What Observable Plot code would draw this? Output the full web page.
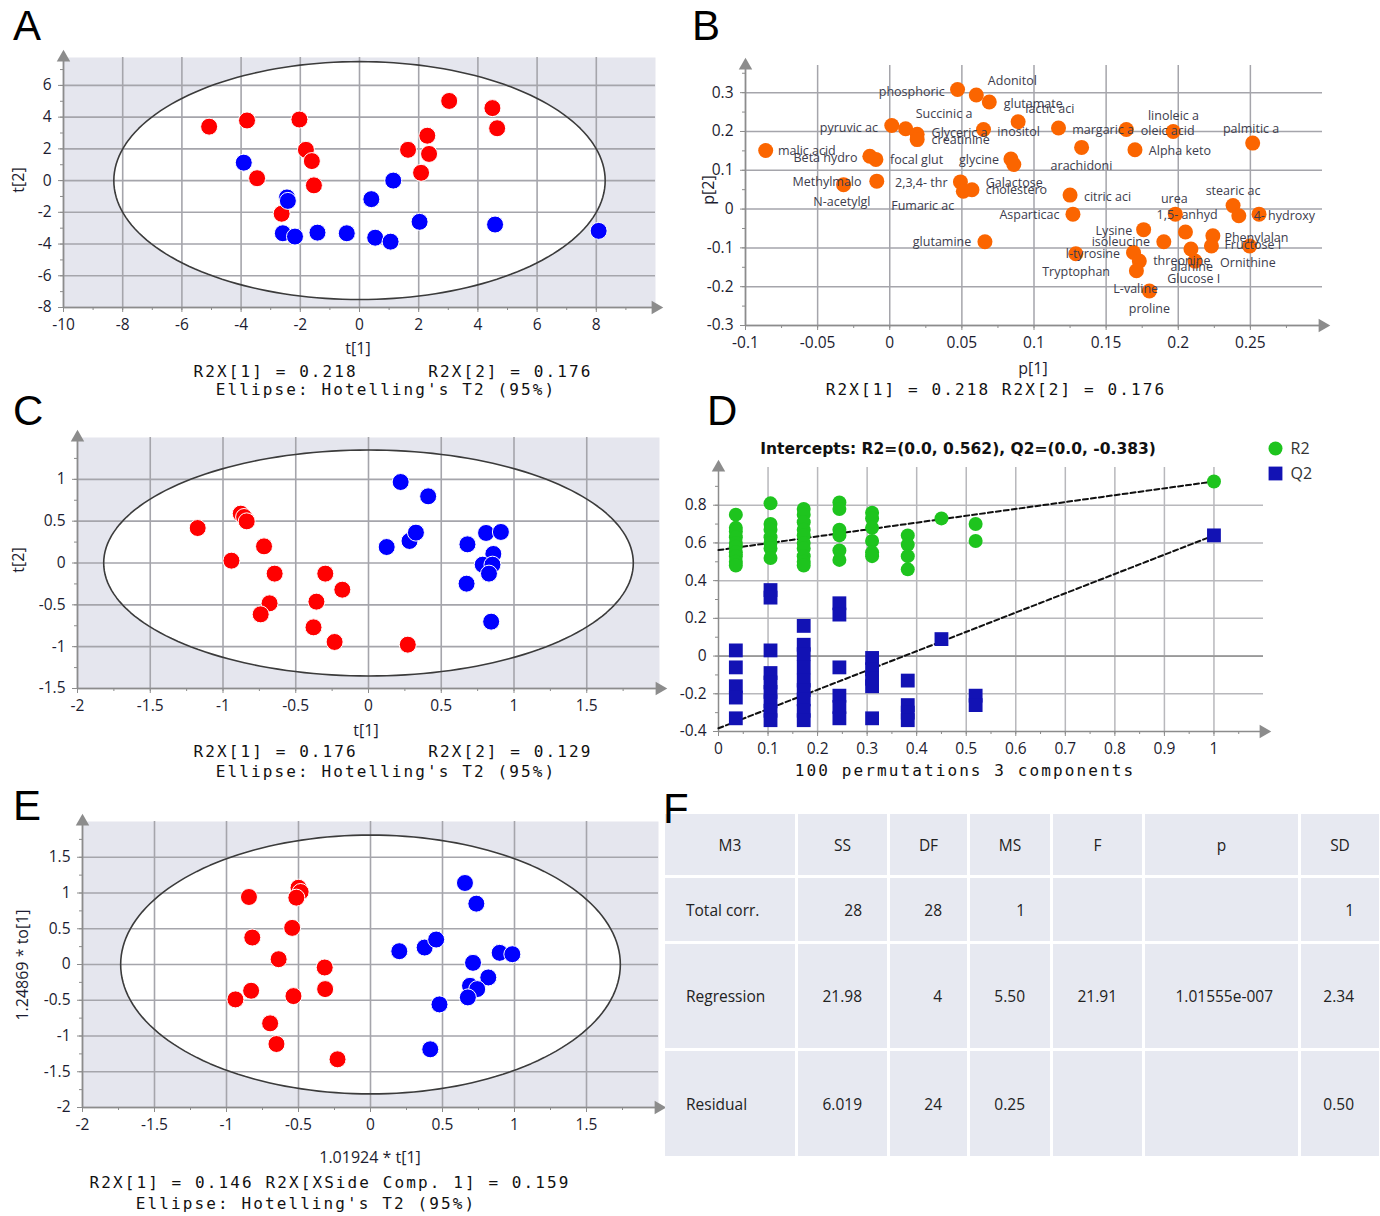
<!DOCTYPE html>
<html><head><meta charset="utf-8">
<script src="https://cdn.jsdelivr.net/npm/d3@7"></script>
<script src="https://cdn.jsdelivr.net/npm/@observablehq/plot@0.6"></script>
<style>
body{margin:0;background:#fff;width:1380px;height:1216px;position:relative;overflow:hidden;font-family:"Open Sans",sans-serif;color:#1c1c30}
.letter{position:absolute;font-family:"Liberation Sans",Arial,sans-serif;font-size:42px;line-height:1;color:#000;z-index:5}
.mono{position:absolute;font-family:"DejaVu Sans Mono",monospace;font-size:16px;letter-spacing:2.1px;white-space:pre;transform:translate(-50%,-50%);color:#111;line-height:1}
.lab{position:absolute;font-size:16px;transform:translate(-50%,-50%);white-space:pre;line-height:1;color:#1c1c30}
.rot{transform:translate(-50%,-50%) rotate(-90deg)}
.ttl{position:absolute;font-family:"DejaVu Sans",sans-serif;font-size:15.5px;font-weight:700;transform:translate(-50%,-50%);white-space:pre;line-height:1;color:#111}
.tbl{position:absolute;left:665px;top:814px;display:grid;grid-template-columns:130px 89px 77px 80px 89px 153px 78px;grid-template-rows:61px 63px 104px 105px;gap:3px}
.tbl div{background:#e7e9f1;display:flex;align-items:center;font-size:15.5px;color:#222;white-space:nowrap}
.tbl .h{justify-content:center}
.tbl .l{justify-content:flex-start;padding-left:21px}
.tbl .v{justify-content:flex-end;padding-right:25px}
</style></head><body>
<script>
// ---------------- DATA ----------------
// Panel A (PCA scores)
const aRedX  = [-5.08,-3.80,-2.03,3.03,4.49,4.65,2.29,1.64,2.35,2.08,-1.81,-1.61,-3.46,-1.54,-2.63];
const aRedY  = [3.40,3.79,3.85,5.02,4.57,3.30,2.83,1.94,1.68,0.49,1.94,1.23,0.15,-0.30,-2.09];
const aBlueX = [-3.91,1.14,0.40,-2.45,-2.42,2.03,4.58,8.08,-2.59,-2.18,-1.42,-0.43,0.53,1.05];
const aBlueY = [1.13,0.00,-1.17,-1.06,-1.28,-2.60,-2.77,-3.17,-3.32,-3.53,-3.28,-3.32,-3.60,-3.85];
const aEllipse = [8.3, 7.5];
const aXTicks = [-10,-8,-6,-4,-2,0,2,4,6,8];
const aYTicks = [-8,-6,-4,-2,0,2,4,6];

// Panel B (loadings)
const bX = [-0.086,0.047,0.060,0.069,0.0014,0.011,0.019,0.019,0.065,0.089,-0.0138,-0.0096,-0.032,-0.009,0.049,0.051,0.057,0.084,0.086,0.066,
            0.117,0.164,0.1965,0.2516,0.133,0.170,0.125,0.127,0.198,0.238,0.242,0.256,0.176,0.205,0.190,0.224,0.223,0.2495,0.129,0.169,0.173,0.171,0.2088,0.2116,0.180];
const bY = [0.151,0.308,0.294,0.276,0.2155,0.207,0.193,0.179,0.205,0.225,0.136,0.128,0.063,0.072,0.070,0.046,0.050,0.129,0.115,-0.084,
            0.209,0.205,0.200,0.170,0.159,0.153,0.036,-0.013,-0.013,0.009,-0.017,-0.013,-0.053,-0.059,-0.084,-0.069,-0.095,-0.095,-0.115,-0.112,-0.134,-0.159,-0.103,-0.134,-0.211];
const bLabels = ["Adonitol","phosphoric","glutamate","lactic aci","Succinic a","pyruvic ac","Glyceric a","creatinine","inositol","margaric a","oleic acid","linoleic a","palmitic a",
  "malic acid","Beta hydro","focal glut","glycine","arachidoni","Alpha keto","Methylmalo","2,3,4- thr","Galactose","cholestero","citric aci","urea","stearic ac",
  "N-acetylgl","Fumaric ac","Asparticac","1,5- anhyd","4- hydroxy","Lysine","isoleucine","Phenylalan","Fructose I","l-tyrosine","threonine","alanine","Ornithine",
  "Tryptophan","Glucose I","L-valine","proline","glutamine"];
const bLabelX = [0.068,-0.0076,0.079,0.094,0.018,-0.0485,0.029,0.029,0.0746,0.1265,0.174,0.179,0.231,
  -0.0775,-0.0667,0.0002,0.048,0.1115,0.1796,-0.0674,0.0037,0.0665,0.0665,0.1346,0.188,0.219,
  -0.053,0.001,0.076,0.185,0.2523,0.1427,0.140,0.232,0.232,0.122,0.1826,0.1946,0.229,
  0.1057,0.1923,0.155,0.1657,0.016];
const bLabelY = [0.329,0.303,0.271,0.259,0.244,0.2085,0.196,0.179,0.198,0.204,0.200,0.241,0.207,
  0.149,0.1316,0.1256,0.1256,0.110,0.149,0.070,0.0675,0.068,0.0487,0.0316,0.027,0.047,
  0.017,0.0077,-0.0154,-0.0154,-0.018,-0.056,-0.086,-0.0735,-0.092,-0.116,-0.133,-0.1496,-0.139,
  -0.161,-0.180,-0.206,-0.257,-0.084];
const bXTicks = [-0.1,-0.05,0,0.05,0.1,0.15,0.2,0.25];
const bYTicks = [-0.3,-0.2,-0.1,0,0.1,0.2,0.3];

// Panel C (PLS-DA scores)
const cRedX  = [-1.174,-0.878,-0.855,-0.837,-0.718,-0.942,-0.645,-0.297,-0.180,-0.680,-0.741,-0.358,-0.378,-0.233,0.270];
const cRedY  = [0.418,0.590,0.550,0.498,0.199,0.028,-0.127,-0.127,-0.319,-0.482,-0.614,-0.462,-0.769,-0.944,-0.976];
const cBlueX = [0.221,0.410,0.125,0.282,0.326,0.680,0.808,0.910,0.858,0.785,0.852,0.828,0.674,0.843];
const cBlueY = [0.968,0.797,0.191,0.263,0.363,0.223,0.359,0.371,0.108,-0.020,-0.020,-0.127,-0.247,-0.701];
const cEllipse = [1.82, 1.35];
const cXTicks = [-2,-1.5,-1,-0.5,0,0.5,1,1.5];
const cYTicks = [-1.5,-1,-0.5,0,0.5,1];

// Panel D (permutation test)
const r2X = [0.035,0.035,0.035,0.035,0.035,0.035,0.035,0.035,0.035,0.035,
             0.105,0.105,0.105,0.105,0.105,0.105,0.105,
             0.172,0.172,0.172,0.172,0.172,0.172,0.172,0.172,0.172,0.172,
             0.244,0.244,0.244,0.244,0.244,0.244,
             0.31,0.31,0.31,0.31,0.31,0.31,
             0.382,0.382,0.382,0.382,
             0.45,0.519,0.519,1.0];
const r2Y = [0.75,0.68,0.66,0.63,0.60,0.58,0.55,0.53,0.50,0.48,
             0.81,0.70,0.67,0.63,0.60,0.57,0.52,
             0.78,0.75,0.71,0.67,0.64,0.60,0.57,0.53,0.50,0.48,
             0.815,0.78,0.67,0.64,0.56,0.51,
             0.76,0.73,0.68,0.61,0.55,0.53,
             0.64,0.59,0.53,0.46,
             0.73,0.70,0.61,0.926];
const q2X = [0.035,0.035,0.035,0.035,0.035,
             0.105,0.105,0.105,0.105,0.105,0.105,0.105,0.105,0.105,
             0.172,0.172,0.172,0.172,0.172,0.172,0.172,0.172,0.172,
             0.244,0.244,0.244,0.244,0.244,0.244,
             0.31,0.31,0.31,0.31,0.31,
             0.382,0.382,0.382,0.382,
             0.45,0.519,0.519,1.0];
const q2Y = [0.03,-0.06,-0.16,-0.22,-0.33,
             0.35,0.31,0.03,-0.09,-0.14,-0.19,-0.24,-0.29,-0.34,
             0.16,0.06,0.01,-0.06,-0.13,-0.18,-0.23,-0.29,-0.34,
             0.28,0.22,-0.06,-0.21,-0.27,-0.33,
             -0.01,-0.07,-0.12,-0.16,-0.33,
             -0.13,-0.26,-0.30,-0.34,
             0.09,-0.21,-0.26,0.64];
const r2Intercept = 0.562, q2Intercept = -0.383;
const dSeries = ["R2", "Q2"];
const dXTicks = [0,0.1,0.2,0.3,0.4,0.5,0.6,0.7,0.8,0.9,1];
const dYTicks = [-0.4,-0.2,0,0.2,0.4,0.6,0.8];

// Panel E (OPLS-DA scores)
const eRedX  = [-0.844,-0.500,-0.485,-0.515,-0.544,-0.821,-0.638,-0.318,-0.315,-0.829,-0.938,-0.535,-0.697,-0.653,-0.229];
const eRedY  = [0.944,1.074,1.014,0.935,0.512,0.377,0.074,-0.042,-0.344,-0.367,-0.488,-0.442,-0.823,-1.112,-1.326];
const eBlueX = [0.656,0.735,0.200,0.376,0.456,0.897,0.985,0.712,0.818,0.691,0.741,0.676,0.479,0.415];
const eBlueY = [1.140,0.851,0.186,0.237,0.349,0.163,0.144,0.023,-0.181,-0.298,-0.344,-0.460,-0.558,-1.186];
const eEllipse = [1.735, 1.81];
const eXTicks = [-2,-1.5,-1,-0.5,0,0.5,1,1.5];
const eYTicks = [-2,-1.5,-1,-0.5,0,0.5,1,1.5];

// Panel F (CV-ANOVA table)
const fHeader = ["M3","SS","DF","MS","F","p","SD"];
const fRows = ["Total corr.","Regression","Residual"];
const fSS = ["28","21.98","6.019"];
const fDF = ["28","4","24"];
const fMS = ["1","5.50","0.25"];
const fF  = ["","21.91",""];
const fP  = ["","1.01555e-007",""];
const fSD = ["1","2.34","0.50"];

// ---------------- DRAWING ----------------
const fmt = d => String(+(+d).toFixed(4));
const GRID = "#a5a5ab", AX = "#8c8c8c", TXT = "#1c1c30", BG = "#e5e6ee";
const GREEN = "#1ec41e", NAVY = "#1212b4";
const pts = (xs, ys) => xs.map((x, i) => ({x, y: ys[i]}));
const minor = (dom, step) => d3.range(Math.round(dom[0]/step), Math.floor(dom[1]/step) + 1).map(k => +(k*step).toFixed(4));

function place(node, left, top) {
  node.style.position = "absolute"; node.style.left = left + "px"; node.style.top = top + "px";
  document.body.appendChild(node);
}
function axes(c) {
  return [
    Plot.ruleY([c.yDom[0]], {stroke: AX, strokeWidth: 1.5}),
    Plot.ruleX([c.xDom[0]], {stroke: AX, strokeWidth: 1.5}),
    Plot.axisX(minor(c.xDom, c.xMinor).filter(v => v < c.xDom[1]), {tickSize: 3, tickFormat: () => "", stroke: AX, label: null}),
    Plot.axisY(minor(c.yDom, c.yMinor).filter(v => v < c.yDom[1]), {tickSize: 3, tickFormat: () => "", stroke: AX, label: null}),
    Plot.axisX(c.xTicks, {tickSize: 5, tickPadding: 6, tickFormat: fmt, stroke: AX, fill: TXT, fontSize: 15.5, label: null}),
    Plot.axisY(c.yTicks, {tickSize: 5, tickPadding: 7, tickFormat: fmt, stroke: AX, fill: TXT, fontSize: 15.5, label: null}),
    Plot.dot([{x: c.xDom[1], y: c.yDom[0]}], {x: "x", y: "y", symbol: "triangle", rotate: 90, r: 5, fill: AX, stroke: "none"}),
    Plot.dot([{x: c.xDom[0], y: c.yDom[1]}], {x: "x", y: "y", symbol: "triangle", r: 5, fill: AX, stroke: "none"})
  ];
}
function base(c, marks) {
  return Plot.plot({
    width: c.ml + c.pw + c.mr, height: c.mt + c.ph + c.mb,
    marginLeft: c.ml, marginRight: c.mr, marginTop: c.mt, marginBottom: c.mb,
    x: {domain: c.xDom}, y: {domain: c.yDom},
    style: {fontFamily: "'Open Sans', sans-serif", color: TXT, background: "transparent", overflow: "visible"},
    marks
  });
}
function scorePlot(c) {
  const ell = d3.range(0, 361, 2).map(t => ({x: c.ell[0]*Math.cos(t*Math.PI/180), y: c.ell[1]*Math.sin(t*Math.PI/180)}));
  return base(c, [
    Plot.frame({fill: BG, stroke: "none"}),
    Plot.line(ell, {x: "x", y: "y", fill: "white", stroke: "none"}),
    Plot.gridX(c.xTicks, {stroke: GRID, strokeOpacity: 1, strokeWidth: 1.6}),
    Plot.gridY(c.yTicks, {stroke: GRID, strokeOpacity: 1, strokeWidth: 1.6}),
    Plot.line(ell, {x: "x", y: "y", stroke: "#3b3b3b", strokeWidth: 1.6}),
    ...axes(c),
    Plot.dot(c.red, {x: "x", y: "y", r: 8.5, fill: "#ff0000", stroke: "white", strokeWidth: 1}),
    Plot.dot(c.blue, {x: "x", y: "y", r: 8.5, fill: "#0000ff", stroke: "white", strokeWidth: 1})
  ]);
}

// A
place(scorePlot({xDom: [-10, 10], yDom: [-8, 7.76], xTicks: aXTicks, yTicks: aYTicks, xMinor: 1, yMinor: 1,
  ml: 63, mt: 17, pw: 592, ph: 250, mr: 15, mb: 40, ell: aEllipse, red: pts(aRedX, aRedY), blue: pts(aBlueX, aBlueY)}), 0, 40);

// B
(() => {
  const c = {xDom: [-0.1, 0.3], yDom: [-0.3, 0.37], xTicks: bXTicks, yTicks: bYTicks, xMinor: 0.025, yMinor: 0.05,
    ml: 55, mt: 25, pw: 577, ph: 260, mr: 20, mb: 40};
  const labs = bLabels.map((t, i) => ({t, x: bLabelX[i], y: bLabelY[i]}));
  place(base(c, [
    Plot.gridX(bXTicks, {stroke: GRID, strokeOpacity: 1, strokeWidth: 1.5}),
    Plot.gridY(bYTicks, {stroke: GRID, strokeOpacity: 1, strokeWidth: 1.5}),
    ...axes(c),
    Plot.dot(pts(bX, bY), {x: "x", y: "y", r: 7.5, fill: "#fb6500", stroke: "none"}),
    Plot.text(labs, {x: "x", y: "y", text: "t", textAnchor: "start", fontSize: 12.5, fill: "#3c3c4c"})
  ]), 690, 40);
})();

// C
place(scorePlot({xDom: [-2, 2], yDom: [-1.5, 1.5], xTicks: cXTicks, yTicks: cYTicks, xMinor: 0.25, yMinor: 0.25,
  ml: 77, mt: 17, pw: 582, ph: 251, mr: 12, mb: 40, ell: cEllipse, red: pts(cRedX, cRedY), blue: pts(cBlueX, cBlueY)}), 0, 420);

// D
(() => {
  const c = {xDom: [0, 1.1], yDom: [-0.4, 1.0], xTicks: dXTicks, yTicks: dYTicks, xMinor: 0.05, yMinor: 0.1,
    ml: 38, mt: 47, pw: 545, ph: 264, mr: 20, mb: 40};
  const r2 = pts(r2X, r2Y), q2 = pts(q2X, q2Y);
  const r2Line = [{x: 0, y: r2Intercept}, r2[r2.length - 1]];
  const q2Line = [{x: 0, y: q2Intercept}, q2[q2.length - 1]];
  place(base(c, [
    Plot.gridX(dXTicks.slice(1), {stroke: "#b8b8bc", strokeOpacity: 1, strokeWidth: 1.5}),
    Plot.gridY(dYTicks.slice(1), {stroke: "#b8b8bc", strokeOpacity: 1, strokeWidth: 1.5}),
    Plot.ruleY([0], {stroke: "#999", strokeWidth: 1.8}),
    ...axes(c),
    Plot.line(r2Line, {x: "x", y: "y", stroke: "#111", strokeWidth: 2, strokeDasharray: "5,3"}),
    Plot.line(q2Line, {x: "x", y: "y", stroke: "#111", strokeWidth: 2, strokeDasharray: "5,3"}),
    Plot.dot(r2, {x: "x", y: "y", r: 7, fill: GREEN, stroke: "none"}),
    Plot.dot(q2, {x: "x", y: "y", r: 7.8, symbol: "square", fill: NAVY, stroke: "none"})
  ]), 680, 420);
  // legend
  const leg = Plot.plot({
    width: 70, height: 50, margin: 0,
    x: {domain: [0, 70], range: [0, 70], axis: null}, y: {domain: [0, 1], range: [12, 37], axis: null},
    style: {fontFamily: "'Open Sans', sans-serif", background: "transparent", overflow: "visible"},
    marks: [
      Plot.dot([dSeries[0]], {x: () => 7, y: () => 0, r: 7, fill: GREEN}),
      Plot.dot([dSeries[1]], {x: () => 7, y: () => 1, r: 7.8, symbol: "square", fill: NAVY}),
      Plot.text(dSeries, {x: () => 22, y: (d, i) => i, text: d => d, textAnchor: "start", fontSize: 16, fill: "#333"})
    ]
  });
  place(leg, 1268, 436);
})();

// E
place(scorePlot({xDom: [-2, 2], yDom: [-2, 2], xTicks: eXTicks, yTicks: eYTicks, xMinor: 0.25, yMinor: 0.25,
  ml: 82, mt: 21, pw: 576, ph: 286, mr: 12, mb: 40, ell: eEllipse, red: pts(eRedX, eRedY), blue: pts(eBlueX, eBlueY)}), 0, 800);

// F table
(() => {
  const t = document.createElement("div"); t.className = "tbl";
  const cols = [fSS, fDF, fMS, fF, fP, fSD];
  const add = (txt, cls) => { const d = document.createElement("div"); d.className = cls; d.textContent = txt; t.appendChild(d); };
  fHeader.forEach(h => add(h, "h"));
  fRows.forEach((r, i) => { add(r, "l"); cols.forEach(col => add(col[i], "v")); });
  document.body.appendChild(t);
})();

// texts
function txt(cls, s, x, y) { const d = document.createElement("div"); d.className = cls; d.textContent = s; d.style.left = x + "px"; d.style.top = y + "px"; document.body.appendChild(d); }
[["A",13,4.5],["B",692,4.5],["C",13,389.5],["D",707,389.5],["E",13,784.5],["F",663,787.5]].forEach(([s,x,y]) => txt("letter", s, x, y));
txt("lab", "t[1]", 358, 348); txt("lab rot", "t[2]", 18, 180);
txt("mono", "R2X[1] = 0.218      R2X[2] = 0.176", 393, 372); txt("mono", "Ellipse: Hotelling's T2 (95%)", 386, 390);
txt("lab", "p[1]", 1033, 368); txt("lab rot", "p[2]", 708, 190);
txt("mono", "R2X[1] = 0.218 R2X[2] = 0.176", 996, 390);
txt("lab", "t[1]", 366, 730); txt("lab rot", "t[2]", 18, 560);
txt("mono", "R2X[1] = 0.176      R2X[2] = 0.129", 393, 752); txt("mono", "Ellipse: Hotelling's T2 (95%)", 386, 772);
txt("ttl", "Intercepts: R2=(0.0, 0.562), Q2=(0.0, -0.383)", 958, 450);
txt("mono", "100 permutations 3 components", 965, 771);
txt("lab", "1.01924 * t[1]", 370, 1157); txt("lab rot", "1.24869 * to[1]", 22, 965);
txt("mono", "R2X[1] = 0.146 R2X[XSide Comp. 1] = 0.159", 330, 1183); txt("mono", "Ellipse: Hotelling's T2 (95%)", 306, 1204);
</script></body></html>
